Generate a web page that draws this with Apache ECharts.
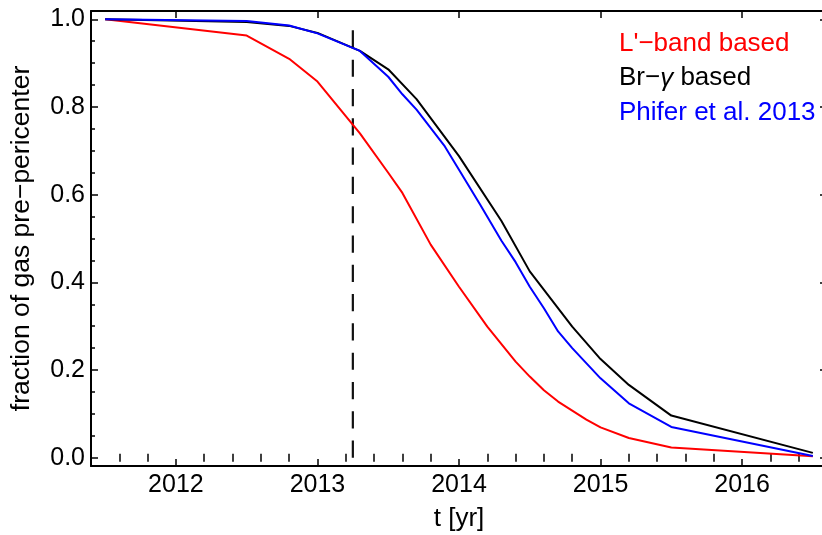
<!DOCTYPE html>
<html>
<head>
<meta charset="utf-8">
<script src="https://cdn.jsdelivr.net/npm/echarts@6/dist/echarts.min.js"></script>
<style>
  html, body { margin: 0; padding: 0; background: #fff; }
  #chart { width: 822px; height: 535px; }
</style>
</head>
<body>
<div id="chart"></div>
<script>
// Fraction of gas still before pericenter passage, per emission model
const lbandYears = [2011.5, 2012.5, 2012.8, 2013.0, 2013.3, 2013.5, 2013.6, 2013.8, 2014.0, 2014.2, 2014.4, 2014.5, 2014.6, 2014.7, 2014.9, 2015.0, 2015.2, 2015.5, 2016.5];
const lbandFraction = [1.0, 0.963, 0.91, 0.858, 0.74, 0.65, 0.604, 0.486, 0.39, 0.299, 0.219, 0.185, 0.154, 0.128, 0.087, 0.069, 0.045, 0.023, 0.003];

const brgYears = [2011.5, 2012.5, 2012.8, 2013.0, 2013.3, 2013.5, 2013.7, 2014.0, 2014.3, 2014.5, 2014.8, 2015.0, 2015.2, 2015.5, 2016.5];
const brgFraction = [1.0, 0.994, 0.985, 0.969, 0.928, 0.886, 0.818, 0.688, 0.54, 0.425, 0.299, 0.225, 0.166, 0.096, 0.011];

const phiferYears = [2011.5, 2012.5, 2012.8, 2013.0, 2013.3, 2013.5, 2013.6, 2013.7, 2013.9, 2014.0, 2014.15, 2014.3, 2014.4, 2014.5, 2014.6, 2014.7, 2014.8, 2015.0, 2015.2, 2015.5, 2016.5];
const phiferFraction = [1.0, 0.996, 0.986, 0.968, 0.928, 0.869, 0.829, 0.794, 0.71, 0.657, 0.577, 0.495, 0.446, 0.39, 0.341, 0.288, 0.25, 0.181, 0.124, 0.07, 0.004];

// Epoch marked by the dashed vertical line, spanning fraction 1 down to 0
const markerYear = 2013.25;
const markerSpan = [1, 0];

// Tick values
const xMajorTicks = [2012, 2013, 2014, 2015, 2016];
const xMinorTicks = [2011.6, 2011.8, 2012.2, 2012.4, 2012.6, 2012.8, 2013.2, 2013.4, 2013.6, 2013.8,
                     2014.2, 2014.4, 2014.6, 2014.8, 2015.2, 2015.4, 2015.6, 2015.8, 2016.2, 2016.4];
const yMajorTicks = [0.0, 0.2, 0.4, 0.6, 0.8, 1.0];
const yMinorTicks = [0.05, 0.1, 0.15, 0.25, 0.3, 0.35, 0.45, 0.5, 0.55, 0.65, 0.7, 0.75, 0.85, 0.9, 0.95];

const legendNames = ["L'\u2212band based", "Br\u2212{g|\u03b3} based", "Phifer et al. 2013"];
const seriesColors = ['#ff0000', '#000000', '#0000ff'];

const FONT = 'Liberation Sans, Helvetica, Arial, sans-serif';
const X_MIN = 2011.4, X_MAX = 2016.6;
const Y_MIN = -0.019, Y_MAX = 1.019;

function zip(xs, ys) { return xs.map((x, i) => [x, ys[i]]); }

function xAxisDef(position, ticks, len, opts) {
  return Object.assign({
    type: 'value', min: X_MIN, max: X_MAX, position: position,
    splitLine: { show: false },
    axisLine: { show: false },
    axisTick: { show: true, inside: true, length: len, customValues: ticks,
                lineStyle: { color: '#000', width: 1.5 } },
    axisLabel: { show: false }
  }, opts || {});
}
function yAxisDef(position, ticks, len, opts) {
  return Object.assign({
    type: 'value', min: Y_MIN, max: Y_MAX, position: position,
    splitLine: { show: false },
    axisLine: { show: false },
    axisTick: { show: true, inside: true, length: len, customValues: ticks,
                lineStyle: { color: '#000', width: 1.5 } },
    axisLabel: { show: false }
  }, opts || {});
}

const chart = echarts.init(document.getElementById('chart'), null, { renderer: 'canvas' });

chart.setOption({
  animation: false,
  backgroundColor: '#ffffff',
  grid: { left: 91, top: 11, width: 736, height: 455, containLabel: false, outerBoundsMode: 'none' },
  xAxis: [
    xAxisDef('bottom', xMajorTicks, 7, {
      axisLine: { show: true, onZero: false, lineStyle: { color: '#000', width: 2 } },
      axisLabel: { show: true, customValues: xMajorTicks, margin: 7,
                   fontFamily: FONT, fontSize: 25, color: '#000',
                   formatter: v => String(Math.round(v)) },
      name: 't [yr]', nameLocation: 'middle', nameGap: 40,
      nameTextStyle: { fontFamily: FONT, fontSize: 26, color: '#000' }
    }),
    xAxisDef('bottom', xMinorTicks, 4),
    xAxisDef('top', xMajorTicks, 7, {
      axisLine: { show: true, onZero: false, lineStyle: { color: '#000', width: 2 } }
    }),
    xAxisDef('top', xMinorTicks, 4)
  ],
  yAxis: [
    yAxisDef('left', yMajorTicks, 7, {
      axisLine: { show: true, onZero: false, lineStyle: { color: '#000', width: 2 } },
      axisLabel: { show: true, customValues: yMajorTicks, margin: 6,
                   fontFamily: FONT, fontSize: 25, color: '#000',
                   formatter: v => v.toFixed(1) },
      name: 'fraction of gas pre\u2212pericenter', nameLocation: 'middle', nameGap: 56,
      nameTextStyle: { fontFamily: FONT, fontSize: 26.5, color: '#000' }
    }),
    yAxisDef('left', yMinorTicks, 4),
    yAxisDef('right', yMajorTicks, 7, {
      axisLine: { show: true, onZero: false, lineStyle: { color: '#000', width: 2 } }
    }),
    yAxisDef('right', yMinorTicks, 4)
  ],
  series: [
    {
      type: 'line', data: markerSpan.map(v => [markerYear, v]),
      showSymbol: false, silent: true, z: 1,
      lineStyle: { color: '#111', width: 2.2, type: [17.2, 12.1], dashOffset: 18.3 }
    },
    {
      type: 'line', data: zip(lbandYears, lbandFraction), showSymbol: false, z: 2,
      lineStyle: { color: seriesColors[0], width: 2 }
    },
    {
      type: 'line', data: zip(brgYears, brgFraction), showSymbol: false, z: 3,
      lineStyle: { color: seriesColors[1], width: 2 }
    },
    {
      type: 'line', data: zip(phiferYears, phiferFraction), showSymbol: false, z: 4,
      lineStyle: { color: seriesColors[2], width: 2 }
    }
  ],
  graphic: legendNames.map((label, i) => ({
    type: 'text', left: 619, top: 31 + i * 34.3, z: 10,
    style: {
      text: label, fill: seriesColors[i],
      font: '26px ' + FONT,
      rich: { g: { fontStyle: 'italic', fontSize: 26, fontFamily: FONT, fill: seriesColors[i] } }
    }
  }))
});
</script>
</body>
</html>
